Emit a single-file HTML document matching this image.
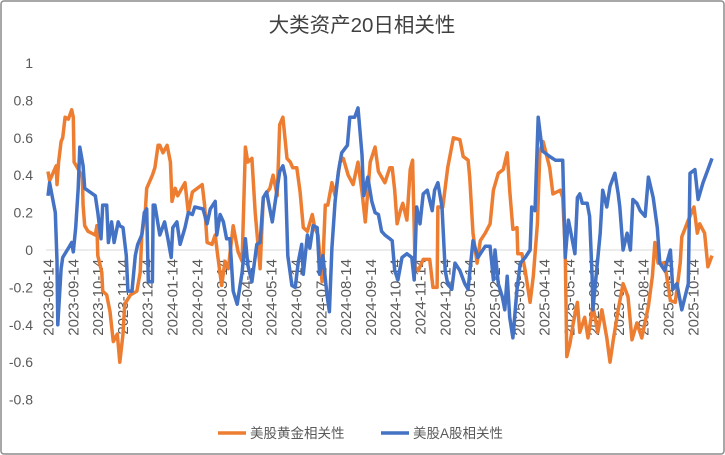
<!DOCTYPE html>
<html><head><meta charset="utf-8"><style>
html,body{margin:0;padding:0;background:#fff;}
svg{display:block;font-family:"Liberation Sans","Noto Sans CJK SC",sans-serif;}
</style></head><body>
<svg id="chart" width="725" height="455" viewBox="0 0 725 455">
<rect x="1" y="1" width="723" height="453" rx="3" fill="#fff" stroke="#8c8c8c" stroke-width="1.5"/>
<text x="362" y="32" text-anchor="middle" font-size="20.5" fill="#404040">大类资产20日相关性</text>
<g id="yaxis"></g>
<line id="zeroline" stroke="#d9d9d9" stroke-width="1"/>
<g id="xaxis"></g>
<g id="series"></g>
<g>
<line x1="218" y1="433" x2="246" y2="433" stroke="#ED7D31" stroke-width="3.5"/>
<text x="250" y="438" font-size="13.5" fill="#595959">美股黄金相关性</text>
<line x1="381" y1="433" x2="409" y2="433" stroke="#4472C4" stroke-width="3.5"/>
<text x="413" y="438" font-size="13.5" fill="#595959">美股A股相关性</text>
</g>
</svg>
<script>
const yTicks = [1,0.8,0.6,0.4,0.2,0,-0.2,-0.4,-0.6,-0.8];
const xTickLabels = ["2023-08-14","2023-09-14","2023-10-14","2023-11-14","2023-12-14","2024-01-14","2024-02-14","2024-03-14","2024-04-14","2024-05-14","2024-06-14","2024-07-14","2024-08-14","2024-09-14","2024-10-14","2024-11-14","2024-12-14","2025-01-14","2025-02-14","2025-03-14","2025-04-14","2025-05-14","2025-06-14","2025-07-14","2025-08-14","2025-09-14","2025-10-14"];
const goldDays = [0,2,6,10,11,13,16,18,21,25,29,31,32,36,42,43,45,49,58,60,61,66,67,72,76,80,85,88,92,94,101,109,113,115,119,121,128,131,135,137,141,146,150,152,156,159,164,168,172,177,189,192,195,201,205,208,213,217,221,227,233,238,242,245,250,254,260,264,272,276,281,284,288,293,297,300,305,309,313,318,324,327,331,336,340,343,348,352,358,362,368,374,380,385,389,395,401,405,413,419,422,425,428,432,435,440,444,447,450,454,460,468,472,477,478,484,490,497,505,509,515,517,521,526,530,536,542,546,552,558,563,566,570,575,576,581,585,591,595,600,603,607,615,619,628,631,634,636,640,644,649,652,658,662,668,674,679,685,689,693,699,705,711,716,722,728,736,741,744,748,756,763,769,775,777,785,792,796,799,805,809,814];
const goldVals = [0.42,0.37,0.41,0.45,0.35,0.47,0.58,0.60,0.71,0.70,0.75,0.71,0.47,0.44,0.39,0.24,0.13,0.10,0.08,0.13,-0.03,-0.12,-0.22,-0.24,-0.33,-0.49,-0.45,-0.60,-0.45,-0.29,-0.24,-0.22,-0.12,0.08,0.19,0.33,0.40,0.44,0.56,0.56,0.52,0.56,0.47,0.26,0.33,0.29,0.33,0.36,0.20,0.31,0.35,0.24,0.04,0.03,0.08,-0.03,-0.19,-0.06,-0.10,0.13,-0.01,-0.06,0.55,0.47,0.49,0.20,-0.10,0.28,0.33,0.40,0.29,0.67,0.71,0.49,0.47,0.44,0.44,0.31,0.12,0.10,0.19,0.12,0.08,-0.17,0.24,0.24,0.36,0.29,0.47,0.49,0.40,0.35,0.47,0.31,0.15,0.47,0.55,0.42,0.36,0.44,0.44,0.32,0.14,0.21,0.25,0.16,0.43,0.48,-0.09,-0.11,-0.05,-0.05,-0.20,-0.20,0.23,0.23,0.44,0.60,0.59,0.50,0.48,0.39,0.09,-0.07,0.05,0.09,0.14,0.32,0.41,0.43,0.52,0.32,0.11,0.12,-0.02,-0.02,-0.11,-0.28,-0.14,0.14,0.53,0.58,0.44,0.30,0.32,0.28,0.00,-0.57,-0.50,-0.39,-0.28,-0.44,-0.36,-0.47,-0.30,-0.44,-0.32,-0.47,-0.60,-0.48,-0.32,-0.18,-0.25,-0.48,-0.39,-0.47,-0.30,-0.14,0.04,-0.07,-0.07,-0.27,-0.28,-0.07,0.07,0.16,0.23,0.09,0.14,0.09,-0.09,-0.03];
const aDays = [0,2,5,9,11,12,16,18,25,29,31,34,37,39,43,45,58,61,65,67,72,74,78,81,86,88,92,96,98,103,107,110,115,118,121,123,128,129,131,137,143,147,151,153,158,162,168,172,177,180,190,195,199,205,207,211,215,219,223,227,232,238,242,245,250,256,260,264,268,275,281,284,288,291,294,299,303,307,311,313,318,321,325,330,333,337,342,345,348,352,356,360,367,370,376,380,385,387,392,397,401,405,409,413,419,422,425,429,434,440,446,449,452,456,460,465,471,474,478,483,487,490,495,499,505,511,515,521,527,536,542,546,548,552,557,560,563,566,570,575,579,585,591,593,597,601,606,615,622,631,634,638,642,646,649,652,655,661,664,667,668,673,677,680,685,689,695,699,701,705,710,714,717,722,726,732,736,742,747,750,756,763,766,771,777,785,787,793,797,803,809,814];
const aVals = [0.29,0.36,0.29,0.20,-0.06,-0.40,-0.10,-0.04,0.01,0.04,-0.01,0.12,0.33,0.55,0.45,0.33,0.29,0.20,0.06,0.24,0.24,0.04,0.15,0.04,0.15,0.13,0.12,-0.03,-0.22,-0.22,-0.03,0.03,0.08,0.20,0.22,-0.17,-0.17,0.24,0.24,0.08,0.15,0.06,-0.04,0.12,0.15,0.03,0.12,0.20,0.19,0.23,0.22,0.14,0.22,0.26,0.08,0.19,0.15,0.06,0.06,-0.22,-0.29,-0.12,0.06,-0.08,-0.17,0.03,0.04,0.28,0.31,0.15,0.33,0.42,0.45,0.39,-0.03,-0.19,-0.20,-0.06,0.03,-0.13,0.08,0.01,0.13,0.12,-0.13,-0.03,-0.24,-0.33,0.01,0.26,0.42,0.52,0.56,0.71,0.71,0.76,0.51,0.29,0.39,0.26,0.20,0.19,0.10,0.08,0.06,0.05,-0.11,-0.16,-0.04,-0.02,-0.04,-0.16,0.23,0.14,0.30,0.32,0.21,0.32,0.36,0.23,-0.11,-0.18,-0.21,-0.07,-0.11,-0.18,-0.21,0.05,-0.04,0.02,0.02,-0.16,0.00,-0.18,-0.25,-0.32,-0.14,-0.36,-0.47,-0.21,-0.07,-0.04,0.00,0.23,0.21,0.71,0.53,0.50,0.48,0.48,-0.04,0.16,0.07,-0.02,0.28,0.30,0.25,0.25,0.18,-0.14,-0.32,-0.09,0.09,0.32,0.23,0.34,0.41,0.30,0.23,0.00,0.09,0.00,0.27,0.25,0.21,0.18,0.39,0.28,0.12,-0.07,-0.11,0.00,-0.21,-0.18,-0.32,-0.18,0.41,0.43,0.27,0.36,0.43,0.49];

const NS = "http://www.w3.org/2000/svg";
const X0 = 48, PX_PER_DAY = 0.8157, Y0 = 250, PX_PER_UNIT = 187, MONTH_PX = 24.8;
function xScale(d){ return X0 + d * PX_PER_DAY; }
function yScale(v){ return Y0 - v * PX_PER_UNIT; }

const yaxis = document.getElementById('yaxis');
yTicks.forEach(function(t){
  const tx = document.createElementNS(NS,'text');
  tx.setAttribute('x', 33);
  tx.setAttribute('y', yScale(t) + 5);
  tx.setAttribute('text-anchor','end');
  tx.setAttribute('font-size','14');
  tx.setAttribute('fill','#595959');
  tx.textContent = String(t);
  
  
  yaxis.appendChild(tx);
});

const zl = document.getElementById('zeroline');
zl.setAttribute('x1', X0 - 2); zl.setAttribute('x2', 714);
zl.setAttribute('y1', yScale(0)); zl.setAttribute('y2', yScale(0));

const xaxis = document.getElementById('xaxis');
xTickLabels.forEach(function(lbl, i){
  const x = X0 + i * MONTH_PX;
  const tx = document.createElementNS(NS,'text');
  tx.setAttribute('transform','translate(' + (x + 5.5) + ',259) rotate(-90)');
  tx.setAttribute('text-anchor','end');
  tx.setAttribute('font-size','15');
  tx.setAttribute('fill','#595959');
  tx.textContent = lbl;
  
  
  xaxis.appendChild(tx);
});

const series = document.getElementById('series');
function drawLine(days, vals, color, name){
  let d = '';
  for (let i = 0; i < vals.length; i++){
    d += (i ? 'L' : 'M') + xScale(days[i]).toFixed(1) + ' ' + yScale(vals[i]).toFixed(1);
  }
  const p = document.createElementNS(NS,'path');
  p.setAttribute('d', d);
  p.setAttribute('fill','none');
  p.setAttribute('stroke', color);
  p.setAttribute('stroke-width','3.5');
  p.setAttribute('stroke-linejoin','round');
  
  
  series.appendChild(p);
}
drawLine(goldDays, goldVals, '#ED7D31', 'us-gold-correlation-line');
drawLine(aDays, aVals, '#4472C4', 'us-ashare-correlation-line');
</script>
</body></html>
